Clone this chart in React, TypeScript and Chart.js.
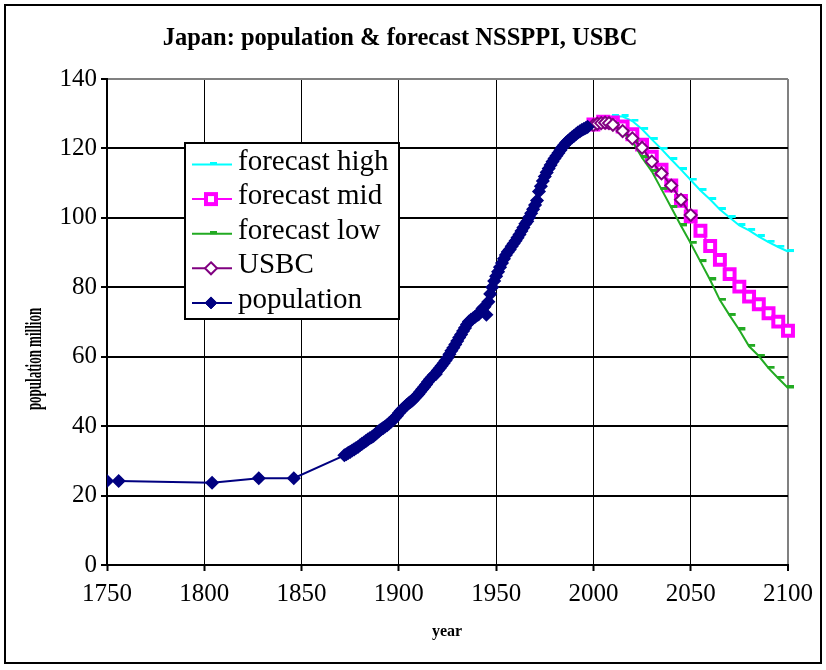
import { useEffect, useRef } from 'react';
import { Chart, registerables } from 'chart.js';

Chart.register(...registerables);

const TITLE = 'Japan: population & forecast NSSPPI, USBC';
const X_TITLE = 'year';
const Y_TITLE = 'population million';

const xTickValues = [1750, 1800, 1850, 1900, 1950, 2000, 2050, 2100];
const yTickValues = [0, 20, 40, 60, 80, 100, 120, 140];

const popYears = [
  1750, 1756, 1804, 1828, 1846,
  1872, 1873, 1874, 1875, 1876, 1877, 1878, 1879,
  1880, 1881, 1882, 1883, 1884, 1885, 1886, 1887, 1888, 1889,
  1890, 1891, 1892, 1893, 1894, 1895, 1896, 1897, 1898, 1899,
  1900, 1901, 1902, 1903, 1904, 1905, 1906, 1907, 1908, 1909,
  1910, 1911, 1912, 1913, 1914, 1915, 1916, 1917, 1918, 1919,
  1920, 1921, 1922, 1923, 1924, 1925, 1926, 1927, 1928, 1929,
  1930, 1931, 1932, 1933, 1934, 1935, 1936, 1937, 1938, 1939,
  1940, 1941, 1942, 1943, 1944, 1945, 1946, 1947, 1948, 1949,
  1950, 1951, 1952, 1953, 1954, 1955, 1956, 1957, 1958, 1959,
  1960, 1961, 1962, 1963, 1964, 1965, 1966, 1967, 1968, 1969,
  1970, 1971, 1972, 1973, 1974, 1975, 1976, 1977, 1978, 1979,
  1980, 1981, 1982, 1983, 1984, 1985, 1986, 1987, 1988, 1989,
  1990, 1991, 1992, 1993, 1994, 1995, 1996, 1997,
];
const popValues = [
  24.2, 24.2, 23.7, 25.0, 25.0,
  31.6, 31.9, 32.3, 32.6, 33.0, 33.3, 33.7, 34.0,
  34.5, 34.9, 35.3, 35.7, 36.1, 36.5, 36.8, 37.2, 37.7, 38.2,
  38.7, 39.1, 39.5, 39.9, 40.3, 40.8, 41.3, 41.8, 42.4, 43.0,
  43.8, 44.4, 45.0, 45.5, 46.1, 46.6, 47.0, 47.4, 48.0, 48.6,
  49.2, 49.9, 50.6, 51.3, 52.0, 52.8, 53.5, 54.1, 54.7, 55.0,
  56.0, 56.7, 57.4, 58.1, 58.9, 59.7, 60.7, 61.7, 62.6, 63.5,
  64.5, 65.5, 66.4, 67.4, 68.3, 69.3, 70.1, 70.6, 71.0, 71.4,
  71.9, 72.2, 72.9, 73.9, 74.4, 72.1, 75.8, 78.1, 80.0, 81.8,
  83.2, 84.5, 85.8, 87.0, 88.2, 89.3, 90.2, 90.9, 91.8, 92.6,
  93.4, 94.3, 95.2, 96.2, 97.2, 98.3, 99.0, 100.2, 101.3, 102.5,
  103.7, 105.0, 107.6, 109.1, 110.6, 111.9, 113.1, 114.2, 115.2, 116.2,
  117.1, 117.9, 118.7, 119.5, 120.3, 121.0, 121.7, 122.2, 122.7, 123.2,
  123.6, 124.1, 124.6, 124.9, 125.3, 125.6, 125.9, 126.2,
];

const forecastYears = [
  2000, 2005, 2010, 2015, 2020, 2025, 2030, 2035, 2040, 2045, 2050,
  2055, 2060, 2065, 2070, 2075, 2080, 2085, 2090, 2095, 2100,
];
const highValues = [
  126.9, 128.0, 129.3, 129.2, 127.9, 125.5, 122.6, 119.8, 116.8, 113.9, 110.9,
  107.9, 105.3, 102.4, 100.1, 97.8, 96.4, 94.6, 93.0, 91.6, 90.3,
];
const midValues = [
  126.9, 127.7, 127.5, 126.3, 124.1, 121.1, 117.6, 113.9, 109.3, 104.9, 100.4,
  96.3, 91.9, 87.9, 83.8, 80.2, 77.3, 75.1, 72.5, 70.1, 67.5,
];
const lowValues = [
  126.9, 127.6, 126.9, 124.8, 122.0, 117.3, 113.4, 108.2, 103.0, 97.7, 92.7,
  87.4, 82.1, 76.3, 71.9, 67.7, 63.0, 60.2, 56.7, 53.8, 51.0,
];

const usbcYears = [2000, 2002, 2004, 2006, 2008, 2010, 2015, 2020, 2025, 2030, 2035, 2040, 2045, 2050];
const usbcValues = [126.7, 127.1, 127.3, 127.4, 127.3, 126.8, 125.0, 122.9, 120.2, 116.2, 112.8, 109.3, 105.2, 100.8];

const legendLabels = ['forecast high', 'forecast mid', 'forecast low', 'USBC', 'population'];

const NAVY = '#000080';
const PURPLE = '#800080';
const MAGENTA = '#FF00FF';
const GREEN = '#22AA22';
const CYAN = '#00FFFF';
const SERIF = "'Liberation Serif', 'Times New Roman', serif";

Chart.defaults.font.family = SERIF;

const pts = (xs: number[], ys: number[]) => xs.map((x, i) => ({ x, y: ys[i] }));

function makeDash(color: string) {
  const c = document.createElement('canvas');
  c.width = 14;
  c.height = 5;
  const g = c.getContext('2d')!;
  g.fillStyle = color;
  g.fillRect(6, 0, 7, 3);
  return c;
}

export default function App() {
  const ref = useRef<HTMLCanvasElement>(null);

  useEffect(() => {
    document.body.style.margin = '0';
    const canvas = ref.current!;
    const dashCyan = makeDash(CYAN);
    const dashGreen = makeDash(GREEN);

    const decor = {
      id: 'decor',
      beforeDraw(chart: any) {
        const ctx = chart.ctx;
        ctx.save();
        ctx.fillStyle = '#fff';
        ctx.fillRect(0, 0, chart.width, chart.height);
        ctx.restore();
      },
      afterDraw(chart: any) {
        const ctx = chart.ctx;
        ctx.save();
        // outer frame
        ctx.strokeStyle = '#000';
        ctx.lineWidth = 2;
        ctx.strokeRect(5, 5, 816, 658);

        // title
        ctx.fillStyle = '#000';
        ctx.font = `bold 24.5px ${SERIF}`;
        ctx.textAlign = 'center';
        ctx.textBaseline = 'alphabetic';
        ctx.fillText(TITLE, 400, 45);

        // x title
        ctx.font = `bold 16px ${SERIF}`;
        ctx.textBaseline = 'middle';
        ctx.fillText(X_TITLE, 447, 632);

        // y title
        ctx.save();
        ctx.translate(35, 359);
        ctx.rotate(-Math.PI / 2);
        ctx.scale(1, 1.75);
        ctx.font = `bold 13px ${SERIF}`;
        ctx.textAlign = 'center';
        ctx.textBaseline = 'middle';
        ctx.fillText(Y_TITLE, 0, 0);
        ctx.restore();

        // legend
        const lx = 185, ly = 143, lw = 214, lh = 176;
        ctx.fillStyle = '#fff';
        ctx.fillRect(lx, ly, lw, lh);
        ctx.strokeStyle = '#000';
        ctx.lineWidth = 2;
        ctx.strokeRect(lx, ly, lw, lh);
        const colors = [CYAN, MAGENTA, GREEN, PURPLE, NAVY];
        ctx.font = `29px ${SERIF}`;
        ctx.textAlign = 'left';
        ctx.textBaseline = 'alphabetic';
        legendLabels.forEach((label, i) => {
          const y = 164.5 + i * 34.6;
          const mx = 211;
          ctx.strokeStyle = colors[i];
          ctx.lineWidth = 2;
          ctx.beginPath();
          ctx.moveTo(192, y);
          ctx.lineTo(232, y);
          ctx.stroke();
          if (i === 0) ctx.drawImage(dashCyan, mx - 7, y - 2.5);
          if (i === 2) ctx.drawImage(dashGreen, mx - 7, y - 2.5);
          if (i === 1) {
            ctx.fillStyle = '#fff';
            ctx.fillRect(mx - 5, y - 5, 10, 10);
            ctx.lineWidth = 4;
            ctx.strokeStyle = MAGENTA;
            ctx.strokeRect(mx - 5, y - 5, 10, 10);
          }
          if (i === 3 || i === 4) {
            ctx.beginPath();
            ctx.moveTo(mx, y - 6);
            ctx.lineTo(mx + 6, y);
            ctx.lineTo(mx, y + 6);
            ctx.lineTo(mx - 6, y);
            ctx.closePath();
            ctx.fillStyle = i === 3 ? '#fff' : NAVY;
            ctx.fill();
            ctx.lineWidth = i === 3 ? 2 : 1;
            ctx.strokeStyle = colors[i];
            ctx.stroke();
          }
          ctx.fillStyle = '#000';
          ctx.fillText(label, 238, y + 5);
        });
        ctx.restore();
      },
    };

    const tickFont = { family: SERIF, size: 25 };

    const chart = new Chart(canvas, {
      type: 'line',
      data: {
        datasets: [
          {
            label: 'population',
            data: pts(popYears, popValues),
            borderColor: NAVY,
            backgroundColor: NAVY,
            borderWidth: 2,
            pointStyle: 'rectRot',
            pointRadius: 6,
            pointBorderWidth: 1.5,
            pointBackgroundColor: NAVY,
            pointBorderColor: NAVY,
          },
          {
            label: 'USBC',
            data: pts(usbcYears, usbcValues),
            borderColor: PURPLE,
            borderWidth: 2,
            pointStyle: 'rectRot',
            pointRadius: 6,
            pointBorderWidth: 2,
            pointBackgroundColor: '#fff',
            pointBorderColor: PURPLE,
            clip: false,
          },
          {
            label: 'forecast low',
            data: pts(forecastYears, lowValues),
            borderColor: GREEN,
            borderWidth: 2,
            pointStyle: dashGreen as any,
            pointRadius: 3,
            clip: false,
          },
          {
            label: 'forecast mid',
            data: pts(forecastYears, midValues),
            borderColor: MAGENTA,
            borderWidth: 2,
            pointStyle: 'rect',
            pointRadius: 7,
            pointBorderWidth: 4,
            pointBackgroundColor: '#fff',
            pointBorderColor: MAGENTA,
            clip: false,
          },
          {
            label: 'forecast high',
            data: pts(forecastYears, highValues),
            borderColor: CYAN,
            borderWidth: 2,
            pointStyle: dashCyan as any,
            pointRadius: 3,
            clip: false,
          },
        ],
      },
      options: {
        responsive: false,
        animation: false,
        devicePixelRatio: 1,
        layout: { padding: { left: 0, top: 79, right: 38, bottom: 0 } },
        plugins: {
          legend: { display: false },
          tooltip: { enabled: false },
          title: { display: false },
        },
        scales: {
          x: {
            type: 'linear',
            min: 1750,
            max: 2100,
            afterBuildTicks: (s: any) => {
              s.ticks = xTickValues.map((v) => ({ value: v }));
            },
            afterFit: (s: any) => {
              s.height = 105;
            },
            border: { color: '#000', width: 2 },
            grid: {
              color: (c: any) => (c.tick && c.tick.value === 2100 ? '#808080' : '#000'),
              lineWidth: (c: any) => (c.tick && c.tick.value === 2100 ? 2 : 1),
              tickColor: '#000',
              tickLength: 6,
              tickWidth: 2,
            },
            ticks: {
              font: tickFont,
              color: '#000',
              padding: 8,
              maxRotation: 0,
              autoSkip: false,
              callback: (v: any) => String(v),
            },
          },
          y: {
            type: 'linear',
            min: 0,
            max: 140,
            afterBuildTicks: (s: any) => {
              s.ticks = yTickValues.map((v) => ({ value: v }));
            },
            afterFit: (s: any) => {
              s.width = 107;
            },
            border: { color: '#000', width: 2 },
            grid: {
              color: (c: any) => (c.tick && c.tick.value === 140 ? '#808080' : '#000'),
              lineWidth: 2,
              tickColor: '#000',
              tickLength: 6,
              tickWidth: 2,
            },
            ticks: {
              font: tickFont,
              color: '#000',
              padding: 4,
              autoSkip: false,
              callback: (v: any) => String(v),
            },
          },
        },
      },
      plugins: [decor],
    } as any);

    return () => chart.destroy();
  }, []);

  return (
    <div style={{ width: 826, height: 670 }}>
      <canvas ref={ref} width={826} height={670} style={{ display: 'block', width: 826, height: 670 }} />
    </div>
  );
}
